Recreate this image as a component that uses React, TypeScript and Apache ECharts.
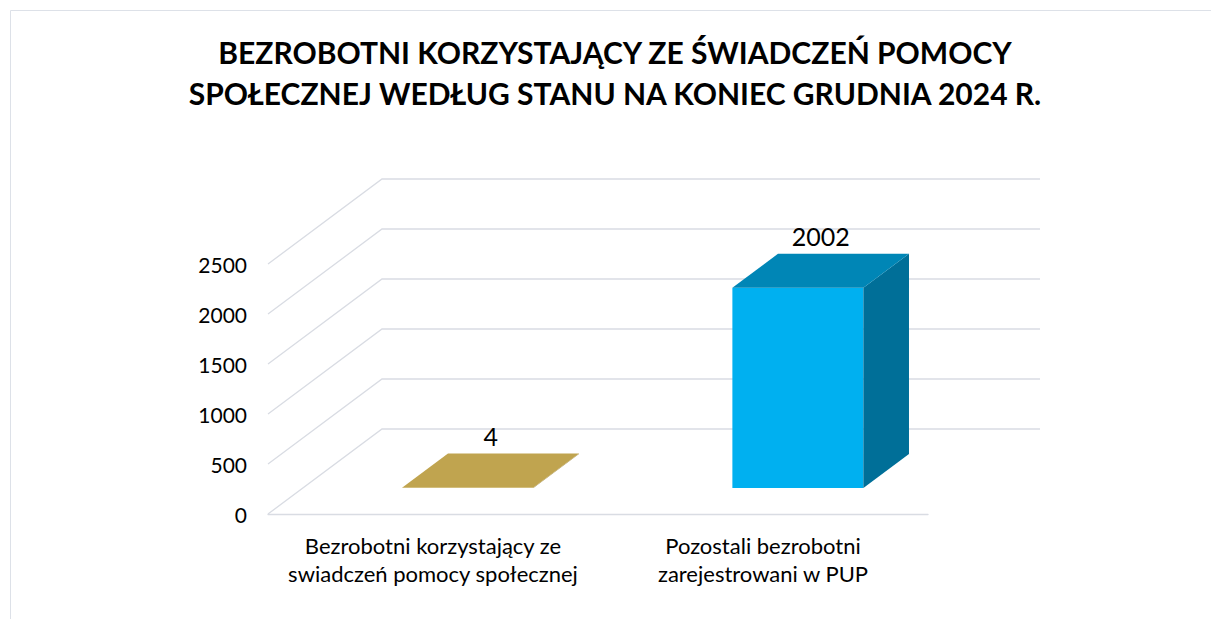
import React, { useEffect, useRef } from "react";
import * as echarts from "echarts";

const TITLE_LINES = [
  "BEZROBOTNI KORZYSTAJĄCY ZE ŚWIADCZEŃ POMOCY",
  "SPOŁECZNEJ WEDŁUG STANU NA KONIEC GRUDNIA 2024 R.",
];
const categories = [
  "Bezrobotni korzystający ze\nswiadczeń pomocy społecznej",
  "Pozostali bezrobotni\nzarejestrowani w PUP",
];
const values = [4, 2002];
const yTicks = [0, 500, 1000, 1500, 2000, 2500];
const Y_MIN = 0;
const Y_MAX = 2500;
const Y_INTERVAL = 500;

const faceColors = [
  { front: "#C9AD58", top: "#C0A44F", side: "#9C853F" },
  { front: "#00B0F0", top: "#0086B6", side: "#006F98" },
];

// 3D projection (pixels)
const DX = 114;
const DY = -85;
const F0 = 0.306; // bar front depth fraction
const F1 = 0.706; // bar back depth fraction
const BAR_RATIO = 0.397;
const GRID_COLOR = "#D9DCE3";
const FONT = "Lato, 'Open Sans', sans-serif";

export default function App() {
  const ref = useRef<HTMLDivElement>(null);
  useEffect(() => {
    if (!ref.current) return;
    const chart = echarts.init(ref.current, undefined, { renderer: "svg" });
    const option: any = {
      animation: false,
      backgroundColor: "#ffffff",
      graphic: [
        {
          type: "rect",
          silent: true,
          z: -10,
          shape: { x: 10.5, y: 10.5, width: 1400, height: 800 },
          style: { fill: "none", stroke: "#DDE1E8", lineWidth: 1 },
        },
        {
          type: "text",
          x: 615,
          y: 72.5,
          silent: true,
          style: {
            text: TITLE_LINES.join("\n"),
            fill: "#000000",
            fontFamily: FONT,
            fontWeight: "bold",
            fontSize: 30,
            lineHeight: 41,
            align: "center",
            verticalAlign: "middle",
          },
        },
      ],
      grid: {
        left: 268,
        right: 283,
        top: 264,
        bottom: 105,
        containLabel: false,
        outerBoundsMode: "none",
      },
      xAxis: {
        type: "category",
        data: categories,
        axisLine: { show: true, lineStyle: { color: GRID_COLOR, width: 1.3 } },
        axisTick: { show: false },
        splitLine: { show: false },
        axisLabel: {
          interval: 0,
          color: "#000000",
          fontFamily: FONT,
          fontSize: 22,
          lineHeight: 28,
          margin: 17,
        },
      },
      yAxis: {
        type: "value",
        min: Y_MIN,
        max: Y_MAX,
        interval: Y_INTERVAL,
        axisLine: { show: false },
        axisTick: { show: false },
        splitLine: { show: false },
        axisLabel: {
          color: "#000000",
          fontFamily: FONT,
          fontSize: 21,
          margin: 21,
          formatter: (v: number) => String(v),
        },
      },
      series: [
        {
          type: "custom",
          z: 1,
          silent: true,
          data: yTicks.map((v) => [0, v]),
          renderItem: (params: any, api: any) => {
            const cs = params.coordSys;
            const y = api.coord([0, api.value(1)])[1];
            const xl = cs.x;
            const xr = cs.x + cs.width;
            return {
              type: "polyline",
              shape: {
                points: [
                  [xl, y],
                  [xl + DX, y + DY],
                  [xr + DX - 2, y + DY],
                ],
              },
              style: { stroke: GRID_COLOR, lineWidth: 1.3, fill: null },
            };
          },
        },
        {
          type: "custom",
          z: 2,
          silent: true,
          data: values.map((v, i) => [i, v]),
          renderItem: (params: any, api: any) => {
            const idx = api.value(0);
            const v = api.value(1);
            const base = api.coord([idx, 0]);
            const top = api.coord([idx, v]);
            const bandW = api.size([1, 0])[0];
            const w = bandW * BAR_RATIO;
            const ox = F0 * DX;
            const oy = F0 * DY;
            const bx = (F1 - F0) * DX;
            const by = (F1 - F0) * DY;
            const x0 = base[0] - w / 2 + ox;
            const x1 = x0 + w;
            const yb = base[1] + oy;
            const yt = top[1] + oy;
            const c = faceColors[params.dataIndex];
            return {
              type: "group",
              children: [
                {
                  type: "rect",
                  shape: { x: x0, y: yt, width: w, height: Math.max(yb - yt, 0) },
                  style: { fill: c.front },
                },
                {
                  type: "polygon",
                  shape: {
                    points: [
                      [x1, yt],
                      [x1 + bx, yt + by],
                      [x1 + bx, yb + by],
                      [x1, yb],
                    ],
                  },
                  style: { fill: c.side },
                },
                {
                  type: "polygon",
                  shape: {
                    points: [
                      [x0, yt],
                      [x1, yt],
                      [x1 + bx, yt + by],
                      [x0 + bx, yt + by],
                    ],
                  },
                  style: { fill: c.top },
                },
                {
                  type: "text",
                  x: (x0 + x1) / 2 + bx / 2,
                  y: yt + by / 2 - 35,
                  style: {
                    text: String(v),
                    fill: "#000000",
                    fontFamily: FONT,
                    fontSize: 25,
                    align: "center",
                    verticalAlign: "middle",
                    textAlign: "center",
                    textVerticalAlign: "middle",
                  },
                },
              ],
            };
          },
        },
      ],
    };
    chart.setOption(option);
    return () => chart.dispose();
  }, []);
  return (
    <div
      ref={ref}
      style={{ position: "absolute", left: 0, top: 0, width: 1211, height: 619 }}
    />
  );
}
